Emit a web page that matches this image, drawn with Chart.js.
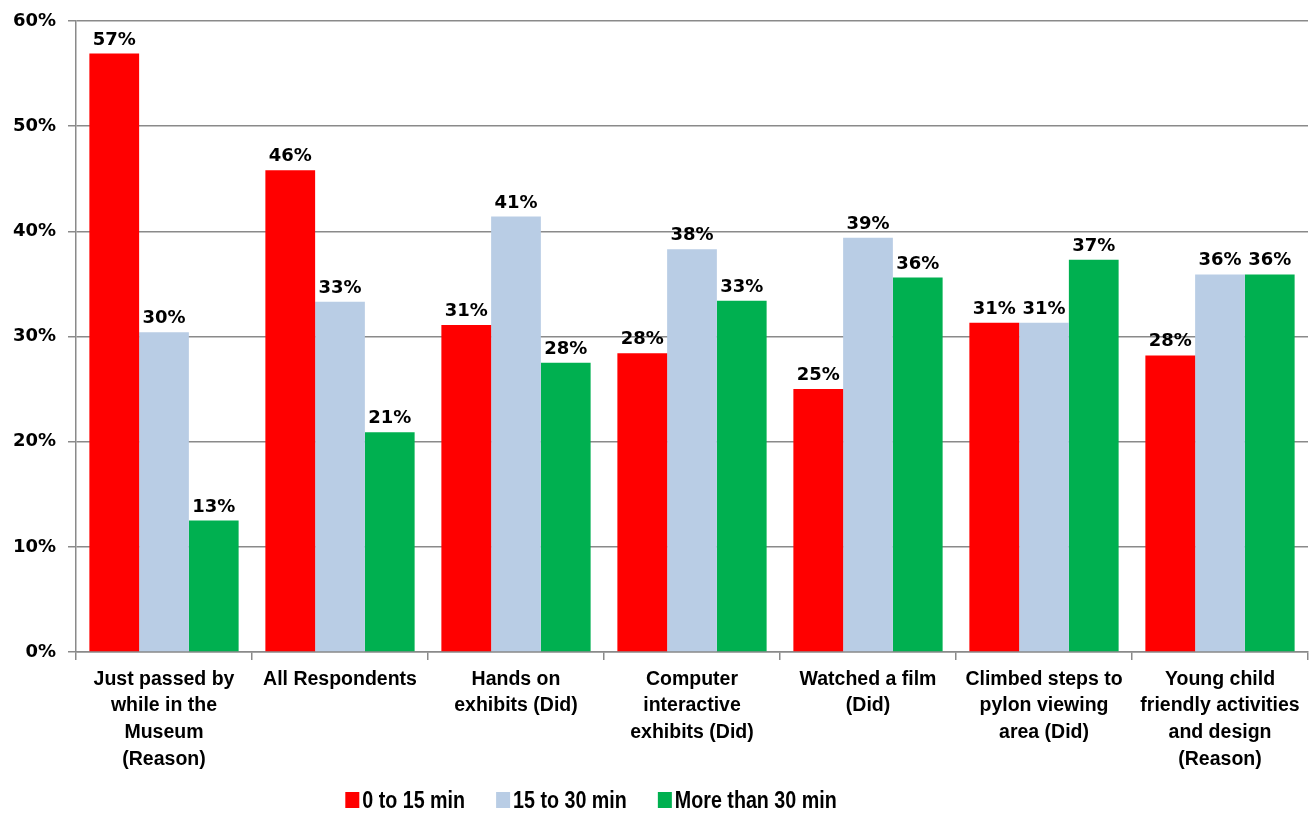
<!DOCTYPE html>
<html>
<head>
<meta charset="utf-8">
<script src="https://cdn.jsdelivr.net/npm/chart.js@4.4.1/dist/chart.umd.min.js"></script>
<style>
  html, body { margin: 0; padding: 0; background: #fff; }
  #wrap { width: 1312px; height: 823px; }
</style>
</head>
<body>
<div id="wrap"><canvas id="myChart" width="1312" height="823"></canvas></div>
<script>
// categories (multi-line as in the original axis)
let categories = [
    ["Just passed by", "while in the", "Museum", "(Reason)"],
    ["All Respondents"],
    ["Hands on", "exhibits (Did)"],
    ["Computer", "interactive", "exhibits (Did)"],
    ["Watched a film", "(Did)"],
    ["Climbed steps to", "pylon viewing", "area (Did)"],
    ["Young child", "friendly activities", "and design", "(Reason)"]
];

// series values, percent
let short = [56.9, 45.8, 31.1, 28.4, 25.0, 31.3, 28.2];
let medium = [30.4, 33.3, 41.4, 38.3, 39.4, 31.3, 35.9];
let long = [12.5, 20.9, 27.5, 33.4, 35.6, 37.3, 35.9];

let seriesNames = ["0 to 15 min", "15 to 30 min", "More than 30 min"];

// y axis: 0% .. 60% by 10%
let yMin = 0, yMax = 60, yStep = 10;

let gridGray = "#8a8a8a";

/* value labels above each bar
 -----------------------------------------------*/
const barLabels = {
    id: 'barLabels',
    afterDatasetsDraw(chart) {
        let ctx = chart.ctx;
        ctx.save();
        ctx.font = "bold 18px 'DejaVu Sans'";
        ctx.fillStyle = "#000";
        ctx.textAlign = "center";
        ctx.textBaseline = "alphabetic";
        chart.data.datasets.forEach(function (ds, i) {
            chart.getDatasetMeta(i).data.forEach(function (bar, j) {
                ctx.fillText(Math.round(ds.data[j]) + "%", bar.x, bar.y - 9);
            });
        });
        ctx.restore();
    }
};

/* legend at the bottom, squares close to text, narrow lettering
 -----------------------------------------------*/
const bottomLegend = {
    id: 'bottomLegend',
    afterDraw(chart) {
        let ctx = chart.ctx;
        ctx.save();
        ctx.font = "bold 24px 'Liberation Sans'";
        ctx.textBaseline = "middle";
        let squeeze = 0.82;
        let box = 14, boxH = 16, gap = 3, spacing = 31;
        let items = chart.data.datasets.map(function (ds) {
            let tw = ctx.measureText(ds.label).width * squeeze;
            return {text: ds.label, color: ds.backgroundColor, tw: tw, w: box + gap + tw};
        });
        let total = items.reduce(function (s, it) { return s + it.w; }, 0) + spacing * (items.length - 1);
        // legend sits a bit left of the page centre, as in the original
        let x = 591 - total / 2;
        let y = 800;
        items.forEach(function (it) {
            ctx.fillStyle = it.color;
            ctx.fillRect(x, y - boxH / 2, box, boxH);
            ctx.fillStyle = "#000";
            ctx.save();
            ctx.translate(x + box + gap, y + 1);
            ctx.scale(squeeze, 1);
            ctx.fillText(it.text, 0, 0);
            ctx.restore();
            x += it.w + spacing;
        });
        ctx.restore();
    }
};

let ctx = document.getElementById('myChart').getContext('2d');
let myChart = new Chart(ctx, {
    type: 'bar',
    data: {
        labels: categories,
        datasets: [{
            label: seriesNames[0],
            data: short,
            backgroundColor: "#ff0000"
        }, {
            label: seriesNames[1],
            data: medium,
            backgroundColor: "#b9cde5"
        }, {
            label: seriesNames[2],
            data: long,
            backgroundColor: "#00b050"
        }]
    },
    options: {
        responsive: false,
        animation: false,
        devicePixelRatio: 1,
        categoryPercentage: 0.848,
        barPercentage: 1.0,
        layout: {padding: {top: 10, right: 4, bottom: 50, left: 0}},
        plugins: {
            legend: {display: false},
            tooltip: {enabled: false}
        },
        scales: {
            x: {
                grid: {
                    offset: true,
                    drawOnChartArea: false,
                    tickLength: 8,
                    color: gridGray,
                    lineWidth: 1.5
                },
                border: {color: gridGray, width: 1.5},
                ticks: {
                    color: "#000",
                    padding: 6,
                    maxRotation: 0,
                    autoSkip: false,
                    font: {family: "'Liberation Sans', Arial", size: 19.5, weight: 'bold', lineHeight: 1.37}
                },
                afterFit: function (scale) { scale.height = 121; }
            },
            y: {
                min: yMin,
                max: yMax,
                grid: {
                    color: gridGray,
                    lineWidth: 1.5,
                    tickLength: 8
                },
                border: {color: gridGray, width: 1.5},
                ticks: {
                    stepSize: yStep,
                    color: "#000",
                    padding: 12,
                    font: {family: "'DejaVu Sans'", size: 18, weight: 'bold', lineHeight: 1.0},
                    callback: function (v) { return v + "%"; }
                },
                afterFit: function (scale) { scale.width = 76; }
            }
        }
    },
    plugins: [barLabels, bottomLegend]
});
</script>
</body>
</html>
